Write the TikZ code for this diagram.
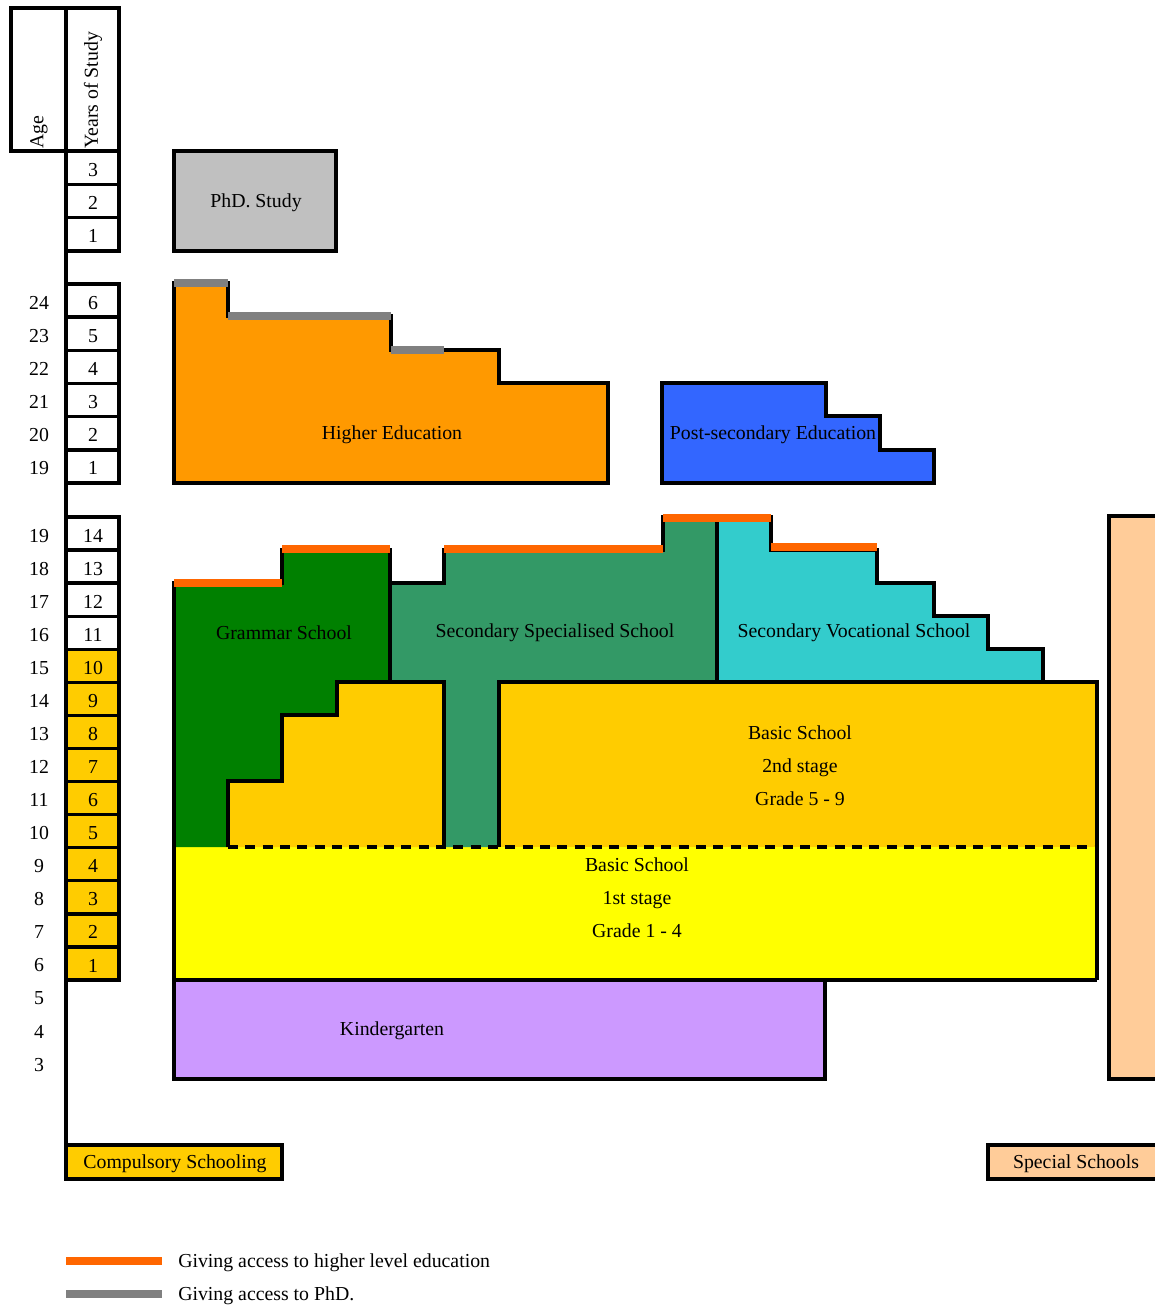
\documentclass[tikz,border=0pt]{standalone}
\usepackage{fontspec}
\setmainfont{Liberation Serif}
\definecolor{phdgray}{RGB}{192,192,192}
\definecolor{higherorange}{RGB}{255,153,0}
\definecolor{postblue}{RGB}{51,102,255}
\definecolor{grammargreen}{RGB}{0,128,0}
\definecolor{specgreen}{RGB}{51,153,102}
\definecolor{voccyan}{RGB}{51,204,204}
\definecolor{basicgold}{RGB}{255,204,0}
\definecolor{basicyellow}{RGB}{255,255,0}
\definecolor{kinderlilac}{RGB}{204,153,255}
\definecolor{specialpeach}{RGB}{255,204,153}
\definecolor{accessorange}{RGB}{255,102,0}
\definecolor{accessgray}{RGB}{128,128,128}
\begin{document}
\begin{tikzpicture}[x=0.75pt,y=0.75pt,yscale=-1,xscale=1,
    edge/.style={draw=black, line width=2.5pt, line join=miter},
    yearbox/.style={draw=black, line width=2.5pt},
    toaccess/.style={line width=5.5pt, color=accessorange},
    tophd/.style={line width=5.5pt, color=accessgray},
    lbl/.style={font=\fontsize{14.85}{24.75}\selectfont, inner sep=0pt, align=center, yshift=-1.5pt}]
\useasboundingbox (0,0) rectangle (1154,1305);

%Header: age and years of study
\draw [yearbox] (11,8) rectangle (66,151) ;
\draw [yearbox] (66,8) rectangle (119,151) ;
\draw (39,147) node [lbl, rotate=90, anchor=west] (agehead) {Age};
\draw (93,147) node [lbl, rotate=90, anchor=west] (yearshead) {Years of Study};
%Axis line
\draw [edge] (66,151) -- (66,1145) ;

%Years of study: PhD
\foreach \n in {1,...,3}
  \draw [yearbox] (66,{251-33.33*\n}) rectangle (119,{251-33.33*(\n-1)})
    (93,{251-33.33*(\n-0.5)}) node [lbl] (phdyr\n) {\n};
%Years of study: higher education
\foreach \n [evaluate=\n as \a using int(\n+18)] in {1,...,6} {
  \draw [yearbox] (66,{483-33.17*\n}) rectangle (119,{483-33.17*(\n-1)})
    (93,{483-33.17*(\n-0.5)}) node [lbl] (heyr\n) {\n};
  \draw (39,{483-33.17*(\n-0.5)}) node [lbl] (heage\n) {\a};
}
%Years of study: schools
\foreach \n in {1,...,14} {
  \ifnum\n<11 \def\yc{basicgold}\else \def\yc{white}\fi
  \draw [yearbox, fill=\yc] (66,{980-33.07*\n}) rectangle (119,{980-33.07*(\n-1)})
    (93,{980-33.07*(\n-0.5)}) node [lbl] (secyr\n) {\n};
}
\foreach \n [evaluate=\n as \a using int(\n+5)] in {-2,...,14}
  \draw (39,{980-33.07*(\n-0.5)}) node [lbl] (secage\n) {\a};

%Shape: PhD study
\draw [edge, fill=phdgray] (174,151) rectangle (336,251) ;
%Shape: Higher education
\draw [edge, fill=higherorange] (174,483) -- (174,283) -- (228,283) -- (228,316) -- (391,316) -- (391,350) -- (499,350) -- (499,383) -- (608,383) -- (608,483) -- cycle ;
\draw [tophd] (174,283) -- (228,283) ;
\draw [tophd] (228,316) -- (391,316) ;
\draw [tophd] (391,350) -- (444,350) ;
%Shape: Post-secondary education
\draw [edge, fill=postblue] (662,483) -- (662,383) -- (826,383) -- (826,416) -- (880,416) -- (880,450) -- (934,450) -- (934,483) -- cycle ;

%Fills: basic school and secondary schools
\fill [basicyellow] (174,847) rectangle (1097,980) ;
\fill [basicgold] (228,847) -- (228,781) -- (282,781) -- (282,715) -- (337,715) -- (337,682) -- (444,682) -- (444,847) -- cycle ;
\fill [basicgold] (499,682) rectangle (1097,847) ;
\fill [grammargreen] (174,583) -- (282,583) -- (282,550) -- (390,550) -- (390,682) -- (337,682) -- (337,715) -- (282,715) -- (282,781) -- (228,781) -- (228,847) -- (174,847) -- cycle ;
\fill [specgreen] (390,583) -- (444,583) -- (444,550) -- (663,550) -- (663,517) -- (717,517) -- (717,682) -- (499,682) -- (499,847) -- (444,847) -- (444,682) -- (390,682) -- cycle ;
\fill [voccyan] (717,517) -- (771,517) -- (771,550) -- (877,550) -- (877,583) -- (934,583) -- (934,616) -- (988,616) -- (988,649) -- (1043,649) -- (1043,682) -- (717,682) -- cycle ;
%Outlines
\draw [edge] (174,847) -- (174,583) -- (282,583) -- (282,550) -- (390,550) -- (390,682) ;
\draw [edge] (228,847) -- (228,781) -- (282,781) -- (282,715) -- (337,715) -- (337,682) -- (444,682) -- (444,847) ;
\draw [edge] (390,583) -- (444,583) -- (444,550) -- (663,550) -- (663,517) -- (717,517) -- (717,682) ;
\draw [edge] (499,847) -- (499,682) -- (1097,682) -- (1097,980) ;
\draw [edge] (717,517) -- (771,517) -- (771,550) -- (877,550) -- (877,583) -- (934,583) -- (934,616) -- (988,616) -- (988,649) -- (1043,649) -- (1043,682) ;
\draw [edge] (174,847) -- (174,980) -- (1097,980) ;
\draw [line width=2.5pt, dash pattern={on 7.5pt off 5.5pt}] (228,847) -- (1097,847) ;
%Access to higher level education
\draw [toaccess] (174,583) -- (282,583) ;
\draw [toaccess] (282,549) -- (390,549) ;
\draw [toaccess] (444,549) -- (663,549) ;
\draw [toaccess] (663,518) -- (771,518) ;
\draw [toaccess] (771,547) -- (877,547) ;

%Shape: Kindergarten
\draw [edge, fill=kinderlilac] (174,980) rectangle (825,1079) ;
%Shape: Special schools
\draw [edge, fill=specialpeach] (1109,1079) -- (1109,516) -- (1170,516) -- (1170,1079) -- cycle ;

%Legend boxes
\draw [edge, fill=basicgold] (66,1145) rectangle (282,1179) ;
\draw [edge, fill=specialpeach] (988,1145) rectangle (1170,1179) ;
\draw [toaccess] (66,1261) -- (162,1261) ;
\draw [tophd] (66,1294) -- (162,1294) ;

% Text Node
\draw (256,201) node [lbl] (phdlbl) {PhD. Study};
% Text Node
\draw (392,433) node [lbl] (higherlbl) {Higher Education};
% Text Node
\draw (773,433) node [lbl] (postlbl) {Post-secondary Education};
% Text Node
\draw (284,631) node [lbl] (grammarlbl) {Grammar School};
% Text Node
\draw (555,631) node [lbl] (speclbl) {Secondary Specialised School};
% Text Node
\draw (854,631) node [lbl] (voclbl) {Secondary Vocational School};
% Text Node
\draw (800,764) node [lbl] (basictwolbl) {Basic School\\2nd stage\\Grade 5 - 9};
% Text Node
\draw (637,896) node [lbl] (basiconelbl) {Basic School\\1st stage\\Grade 1 - 4};
% Text Node
\draw (392,1029) node [lbl] (kinderlbl) {Kindergarten};
% Text Node
\draw (175,1162) node [lbl] (compulsorylbl) {Compulsory Schooling};
% Text Node
\draw (1076,1162) node [lbl] (speciallbl) {Special Schools};
% Text Node
\draw (178,1261) node [lbl, anchor=west] (toaccesslbl) {Giving access to higher level education};
% Text Node
\draw (178,1294) node [lbl, anchor=west] (tophdlbl) {Giving access to PhD.};

\end{tikzpicture}
\end{document}
